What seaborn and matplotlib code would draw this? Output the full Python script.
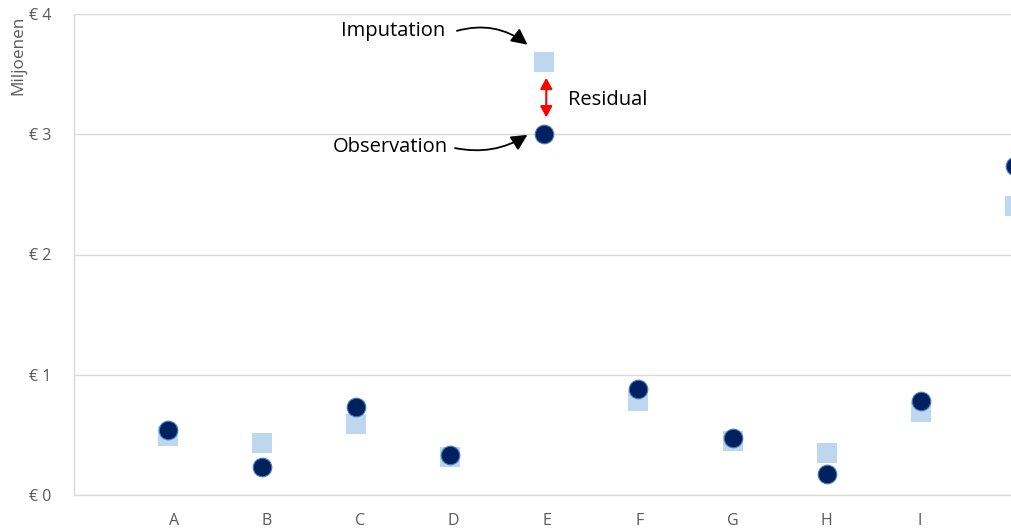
import matplotlib
matplotlib.use("Agg")
import matplotlib.pyplot as plt
import seaborn as sns
import pandas as pd

categories = ["A", "B", "C", "D", "E", "F", "G", "H", "I", "J"]
observation = [0.54, 0.235, 0.73, 0.33, 3.00, 0.88, 0.47, 0.175, 0.785, 2.74]
imputation = [0.49, 0.436, 0.59, 0.315, 3.60, 0.785, 0.45, 0.347, 0.69, 2.40]
y_ticks = [0, 1, 2, 3, 4]
y_tick_labels = ["€ 0", "€ 1", "€ 2", "€ 3", "€ 4"]
y_axis_label = "Miljoenen"

sns.set_theme(style="white")
plt.rcParams["font.family"] = ["Open Sans", "DejaVu Sans"]

fig = plt.figure(figsize=(10.11, 5.30), dpi=100)
ax = fig.add_axes([74 / 1011, 1 - 495 / 530, 1 - 74 / 1011, (495 - 14) / 530])

df_obs = pd.DataFrame({"cat": categories, "val": observation})
df_imp = pd.DataFrame({"cat": categories, "val": imputation})

sns.scatterplot(data=df_imp, x="cat", y="val", marker="s", s=190,
                color="#BDD7EE", linewidth=0, ax=ax, zorder=3)
sns.scatterplot(data=df_obs, x="cat", y="val", marker="o", s=180,
                color="#002060", edgecolor="#4A7EBB", linewidth=0.8, ax=ax, zorder=4)

ax.set_yticks(y_ticks)
ax.set_yticklabels(y_tick_labels)
# category labels sit slightly right of the marks, as in the source chart
ax.set_xticks([i * 0.991 + 0.06 for i in range(len(categories))])
ax.set_xticklabels(categories)
ax.set_xlim(-1, 8.96)
ax.set_ylim(0, 4)
ax.set_xlabel("")
ax.set_ylabel("")
ax.yaxis.grid(True, color="#D9D9D9", linewidth=1)
ax.xaxis.grid(False)
ax.set_axisbelow(True)
for s in ["top", "right"]:
    ax.spines[s].set_visible(False)
ax.spines["left"].set_color("#D9D9D9")
ax.spines["bottom"].set_color("#D9D9D9")
ax.spines["left"].set_linewidth(1)
ax.spines["bottom"].set_linewidth(1)
ax.tick_params(axis="y", length=0, pad=16, labelsize=11.5, labelcolor="#595959")
ax.tick_params(axis="x", length=0, pad=13, labelsize=11.5, labelcolor="#595959")
for lbl in ax.get_xticklabels():
    lbl.set_clip_on(False)

fig.text(18 / 1011, 1 - 16 / 530, y_axis_label, rotation=90, ha="center", va="top",
         fontsize=12.3, color="#595959")

# annotations
e = categories.index("E")
ax.text(e - 1.61, 3.857, "Imputation", ha="center", va="center", fontsize=14.5, color="black")
ax.annotate("", xy=(e - 0.18, 3.745), xytext=(e - 0.93, 3.86),
            arrowprops=dict(arrowstyle="-|>,head_length=0.8,head_width=0.4",
                            connectionstyle="arc3,rad=-0.25", color="black", lw=1.3,
                            shrinkA=0, shrinkB=0))
ax.text(e - 1.64, 2.893, "Observation", ha="center", va="center", fontsize=14.5, color="black")
ax.annotate("", xy=(e - 0.18, 2.995), xytext=(e - 0.95, 2.885),
            arrowprops=dict(arrowstyle="-|>,head_length=0.8,head_width=0.4",
                            connectionstyle="arc3,rad=0.2", color="black", lw=1.3,
                            shrinkA=0, shrinkB=0))
ax.annotate("", xy=(e + 0.02, 3.47), xytext=(e + 0.02, 3.14),
            arrowprops=dict(arrowstyle="<|-|>,head_length=0.55,head_width=0.3",
                            color="#FF0000", lw=1.5, shrinkA=0, shrinkB=0))
ax.text(e + 0.25, 3.283, "Residual", ha="left", va="center", fontsize=14.5, color="black")

fig.savefig("out.png", dpi=100)
